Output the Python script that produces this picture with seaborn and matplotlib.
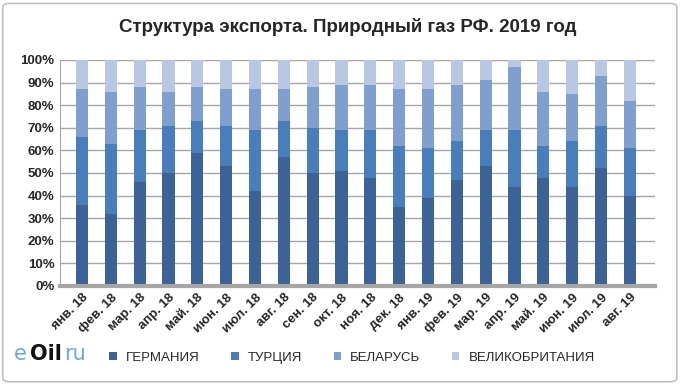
import numpy as np
import pandas as pd
import matplotlib
matplotlib.use("Agg")
import matplotlib.pyplot as plt
from matplotlib.patches import FancyBboxPatch
import seaborn as sns

months = ["янв. 18", "фев. 18", "мар. 18", "апр. 18", "май. 18", "июн. 18", "июл. 18", "авг. 18",
          "сен. 18", "окт. 18", "ноя. 18", "дек. 18", "янв. 19", "фев. 19", "мар. 19", "апр. 19",
          "май. 19", "июн. 19", "июл. 19", "авг. 19"]

# shares, %
germany = [36, 32, 46, 50, 59, 53, 42, 57, 50, 51, 48, 35, 39, 47, 53, 44, 48, 44, 52, 40]
turkey = [30, 31, 23, 21, 14, 18, 27, 16, 20, 18, 21, 27, 22, 17, 16, 25, 14, 20, 19, 21]
belarus = [21, 23, 19, 15, 15, 16, 18, 14, 18, 20, 20, 25, 26, 25, 22, 28, 24, 21, 22, 21]
uk = [100 - g - t - b for g, t, b in zip(germany, turkey, belarus)]

names = ["ГЕРМАНИЯ", "ТУРЦИЯ", "БЕЛАРУСЬ", "ВЕЛИКОБРИТАНИЯ"]
colors = ["#3B6397", "#4A7EBB", "#7F9FCF", "#B8C8E3"]

df = pd.DataFrame({"month": months, "ГЕРМАНИЯ": germany, "ТУРЦИЯ": turkey,
                   "БЕЛАРУСЬ": belarus, "ВЕЛИКОБРИТАНИЯ": uk})
cum = df[names].cumsum(axis=1)

sns.set_style("white")
plt.rcParams['font.family'] = ['Liberation Sans Narrow', 'Liberation Sans', 'DejaVu Sans']

fig = plt.figure(figsize=(6.81, 3.84), dpi=100)
ax = fig.add_axes([60 / 681, 1 - 286 / 384, 595 / 681, 226 / 384])

# draw from the top layer down so the lower ones cover it
for name, col in reversed(list(zip(names, colors))):
    sns.barplot(x=df["month"], y=cum[name], color=col, width=0.42, ax=ax,
                edgecolor="none", label=name, saturation=1)

ax.set_xlim(-0.76, 19.87)
ax.set_ylim(0, 100)
ax.set_yticks(np.arange(0, 101, 10))
ax.set_yticklabels([f"{v}%" for v in range(0, 101, 10)], fontsize=9.5, fontweight="bold")
ax.yaxis.grid(True, color="#A6A6A6", linewidth=1)
ax.set_axisbelow(True)
ax.set_xlabel("")
ax.set_ylabel("")
for s in ["top", "right"]:
    ax.spines[s].set_visible(False)
ax.spines["left"].set_color("#A6A6A6")
ax.spines["bottom"].set_color("#A6A6A6")
ax.spines["bottom"].set_linewidth(3)
ax.tick_params(axis="y", length=0, pad=4)
ax.tick_params(axis="x", length=0, pad=4)
plt.setp(ax.get_xticklabels(), rotation=45, ha="right", rotation_mode="anchor",
         fontsize=9.5, fontweight="bold")

handles, labels = ax.get_legend_handles_labels()
order = [labels.index(n) for n in names]
fig.legend([handles[i] for i in order], names, loc="center", ncol=4,
           bbox_to_anchor=(0.517, 0.068), frameon=False, fontsize=9.5,
           handlelength=0.55, handleheight=0.55, columnspacing=2.4, handletextpad=0.7)
if ax.legend_:
    ax.legend_.remove()

fig.text(0.511, 0.93, "Структура экспорта. Природный газ РФ. 2019 год",
         ha="center", va="center", fontsize=13.5, fontweight="bold")

# logo
fig.text(14 / 681, 0.062, "e", color="#6FA8DC", fontsize=15, family="DejaVu Sans", va="baseline")
fig.text(30 / 681, 0.062, "Oil", color="#111111", fontsize=15, fontweight="bold",
         family="DejaVu Sans", va="baseline")
fig.text(64 / 681, 0.062, "ru", color="#6FA8DC", fontsize=15, family="DejaVu Sans", va="baseline")

fig.patches.append(FancyBboxPatch((0.004, 0.006), 0.99, 0.985, boxstyle="round,pad=0,rounding_size=0.01",
                                  transform=fig.transFigure, fill=False, edgecolor="#BFBFBF", linewidth=1.2))

fig.savefig("out.png", dpi=100)
